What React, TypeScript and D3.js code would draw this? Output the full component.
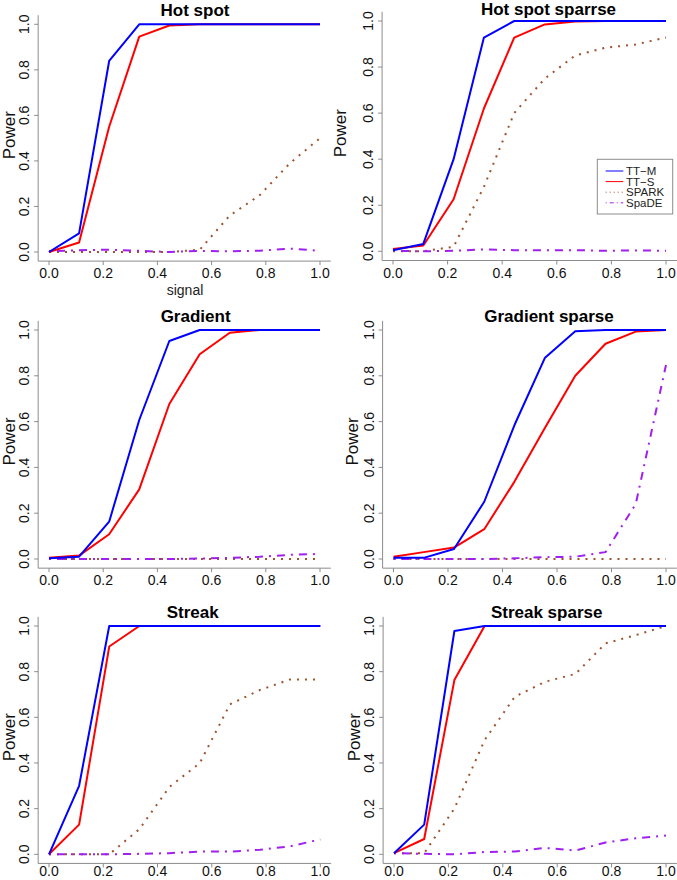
import * as d3 from 'd3';

// signal levels (x) shared by all panels
const signal = [0, 0.111, 0.222, 0.333, 0.444, 0.556, 0.667, 0.778, 0.889, 1.0];
const ticks = [0, 0.2, 0.4, 0.6, 0.8, 1.0];

const methods = ['TT−M', 'TT−S', 'SPARK', 'SpaDE'];

// Hot spot
const hotSpotTTM = [0, 0.082, 0.839, 1.0, 1.0, 1.0, 1.0, 1.0, 1.0, 1.0];
const hotSpotTTS = [0, 0.042, 0.55, 0.946, 0.995, 1.0, 1.0, 1.0, 1.0, 1.0];
const hotSpotSPARK = [0, 0, 0, 0, 0, 0.01, 0.16, 0.25, 0.39, 0.5];
const hotSpotSpaDE = [0.003, 0.008, 0.01, 0.005, 0, 0.005, 0.003, 0.006, 0.015, 0.005];

// Hot spot sparrse
const hotSparseTTM = [0.005, 0.032, 0.4, 0.928, 1.0, 1.0, 1.0, 1.0, 1.0, 1.0];
const hotSparseTTS = [0.01, 0.025, 0.226, 0.62, 0.928, 0.985, 0.998, 1.0, 1.0, 1.0];
const hotSparseSPARK = [0, 0, 0.02, 0.28, 0.6, 0.75, 0.85, 0.884, 0.898, 0.928];
const hotSparseSpaDE = [0.002, 0, 0.002, 0.008, 0.005, 0.005, 0.005, 0.002, 0.004, 0.002];

// Gradient
const gradientTTM = [0.003, 0.01, 0.163, 0.607, 0.952, 1.0, 1.0, 1.0, 1.0, 1.0];
const gradientTTS = [0.006, 0.015, 0.108, 0.304, 0.677, 0.894, 0.988, 1.0, 1.0, 1.0];
const gradientSPARK = [0, 0, 0, 0, 0, 0, 0, 0, 0, 0];
const gradientSpaDE = [0, 0, 0, 0, 0, 0.002, 0.005, 0.01, 0.018, 0.022];

// Gradient sparse
const gradSparseTTM = [0.005, 0.005, 0.044, 0.25, 0.585, 0.879, 0.995, 1.0, 1.0, 1.0];
const gradSparseTTS = [0.01, 0.03, 0.05, 0.13, 0.338, 0.573, 0.8, 0.94, 0.993, 1.0];
const gradSparseSPARK = [0, 0, 0, 0, 0, 0, 0, 0, 0, 0];
const gradSparseSpaDE = [0, 0, 0, 0, 0.003, 0.008, 0.01, 0.03, 0.24, 0.847];

// Streak
const streakTTM = [0, 0.3, 1.0, 1.0, 1.0, 1.0, 1.0, 1.0, 1.0, 1.0];
const streakTTS = [0, 0.13, 0.91, 1.0, 1.0, 1.0, 1.0, 1.0, 1.0, 1.0];
const streakSPARK = [0, 0, 0, 0.11, 0.295, 0.4, 0.657, 0.72, 0.766, 0.766];
const streakSpaDE = [0, 0, 0, 0.002, 0.005, 0.012, 0.012, 0.02, 0.035, 0.065];

// Streak sparse
const streakSparseTTM = [0.005, 0.13, 0.978, 1.0, 1.0, 1.0, 1.0, 1.0, 1.0, 1.0];
const streakSparseTTS = [0.005, 0.067, 0.763, 1.0, 1.0, 1.0, 1.0, 1.0, 1.0, 1.0];
const streakSparseSPARK = [0.005, 0.005, 0.2, 0.5, 0.69, 0.756, 0.79, 0.924, 0.96, 1.0];
const streakSparseSpaDE = [0.005, 0.002, 0, 0.01, 0.012, 0.028, 0.016, 0.052, 0.07, 0.082];

const STYLES = [
  { color: '#0000ff', dash: null, legendDash: null },
  { color: '#ff0000', dash: null, legendDash: null },
  { color: '#a0522d', dash: '2,6', legendDash: '1,3' },
  { color: '#a020f0', dash: '2,6,8,6', legendDash: '1,3,4,3' },
];
// drawing order: SPARK, SpaDE, TT-S, TT-M
const DRAW_ORDER = [2, 3, 1, 0];

const FONT = "'Liberation Sans', Arial, Helvetica, sans-serif";
const AXIS = '#8c8c8c';

const PANELS = [
  { title: 'Hot spot', series: [hotSpotTTM, hotSpotTTS, hotSpotSPARK, hotSpotSpaDE],
    x0: 49, x1: 320, y0: 252, y1: 24.3, titleX: 195, titleY: 16, ylabX: 8.5, xlab: true, legend: false },
  { title: 'Hot spot sparrse', series: [hotSparseTTM, hotSparseTTS, hotSparseSPARK, hotSparseSpaDE],
    x0: 393, x1: 666, y0: 251.3, y1: 21, titleX: 548.5, titleY: 14.5, ylabX: 340, xlab: false, legend: true },
  { title: 'Gradient', series: [gradientTTM, gradientTTS, gradientSPARK, gradientSpaDE],
    x0: 49, x1: 320, y0: 559, y1: 330, titleX: 195.6, titleY: 321.5, ylabX: 8.5, xlab: false, legend: false },
  { title: 'Gradient sparse', series: [gradSparseTTM, gradSparseTTS, gradSparseSPARK, gradSparseSpaDE],
    x0: 393.5, x1: 666, y0: 559, y1: 330, titleX: 549, titleY: 321.5, ylabX: 352, xlab: false, legend: false },
  { title: 'Streak', series: [streakTTM, streakTTS, streakSPARK, streakSpaDE],
    x0: 49, x1: 320.3, y0: 854.3, y1: 626, titleX: 192.7, titleY: 617.5, ylabX: 8.5, xlab: false, legend: false },
  { title: 'Streak sparse', series: [streakSparseTTM, streakSparseTTS, streakSparseSPARK, streakSparseSpaDE],
    x0: 394, x1: 666, y0: 854.3, y1: 626, titleX: 546.7, titleY: 617.5, ylabX: 354, xlab: false, legend: false },
];

const LEGEND = { left: 597.3, top: 159.3, right: 672.7, bottom: 214, lineX0: 605.7, lineX1: 623.3, textX: 626, rowY0: 171, rowStep: 10.6 };

function Legend() {
  const L = LEGEND;
  return (
    <g>
      <rect x={L.left} y={L.top} width={L.right - L.left} height={L.bottom - L.top}
        fill="white" stroke={AXIS} strokeWidth={1} />
      {methods.map((m, i) => {
        const yy = L.rowY0 + i * L.rowStep;
        const s = STYLES[i];
        return (
          <g key={m}>
            <line x1={L.lineX0} x2={L.lineX1} y1={yy} y2={yy} stroke={s.color} strokeWidth={1}
              strokeDasharray={s.legendDash ?? undefined} />
            <text x={L.textX} y={yy + 4} fontSize={11.5} fontFamily={FONT} fill="#222">{m}</text>
          </g>
        );
      })}
    </g>
  );
}

function Panel({ p }: { p: typeof PANELS[number] }) {
  const x = d3.scaleLinear().domain([0, 1]).range([p.x0, p.x1]);
  const y = d3.scaleLinear().domain([0, 1]).range([p.y0, p.y1]);
  const line = d3.line<number>().x((_, i) => x(signal[i])).y((d) => y(d));
  const left = x(-0.04);
  const right = x(1.04);
  const top = y(1.04);
  const bottom = y(-0.04);
  const midY = y(0.5) - 3;
  const xLabY = Math.min(bottom + 17, 876);

  return (
    <g>
      {/* L-shaped box */}
      <path d={`M${left},${top}V${bottom}H${right}`} fill="none" stroke={AXIS} strokeWidth={1} />
      {ticks.map((t) => (
        <g key={'x' + t}>
          <line x1={x(t)} x2={x(t)} y1={bottom} y2={bottom + 4} stroke={AXIS} />
          <text x={x(t)} y={xLabY} textAnchor="middle" fontSize={14} fontFamily={FONT} fill="#111">
            {t.toFixed(1)}
          </text>
        </g>
      ))}
      {ticks.map((t) => (
        <g key={'y' + t}>
          <line x1={left - 4} x2={left} y1={y(t)} y2={y(t)} stroke={AXIS} />
          <text transform={`translate(${left - 9},${y(t)}) rotate(-90)`} textAnchor="middle"
            fontSize={14} fontFamily={FONT} fill="#111">
            {t.toFixed(1)}
          </text>
        </g>
      ))}
      <text transform={`translate(${p.ylabX + 6},${midY}) rotate(-90)`} textAnchor="middle"
        fontSize={17} fontFamily={FONT} fill="#111">Power</text>
      {p.xlab && (
        <text x={185} y={295} textAnchor="middle" fontSize={14} fontFamily={FONT} fill="#222">signal</text>
      )}
      <text x={p.titleX} y={p.titleY} textAnchor="middle" fontSize={17} fontWeight="bold"
        fontFamily={FONT} fill="#000">{p.title}</text>
      {DRAW_ORDER.map((k) => (
        <path key={k} d={line(p.series[k]) ?? ''} fill="none" stroke={STYLES[k].color}
          strokeWidth={2} strokeDasharray={STYLES[k].dash ?? undefined} strokeLinejoin="round" />
      ))}
      {p.legend && <Legend />}
    </g>
  );
}

export default function App() {
  return (
    <svg width={677} height={880} style={{ position: 'absolute', left: 0, top: 0, background: 'white' }}>
      <rect width={677} height={880} fill="white" />
      {PANELS.map((p) => <Panel key={p.title} p={p} />)}
    </svg>
  );
}
